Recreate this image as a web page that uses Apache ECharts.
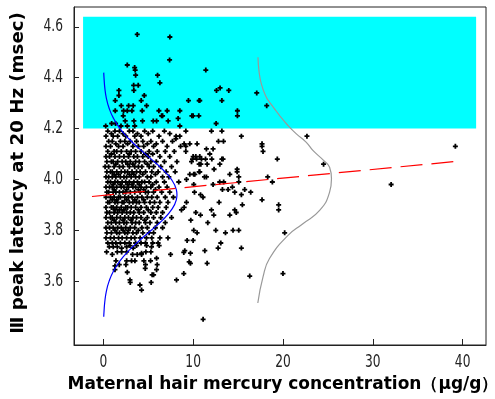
<!DOCTYPE html>
<html><head><meta charset="utf-8">
<script src="https://cdn.jsdelivr.net/npm/echarts@6/dist/echarts.min.js"></script>
<style>html,body{margin:0;padding:0;background:#fff}#c{width:495px;height:399px}</style>
</head><body><div id="c"></div>
<script>
// ---- data ----
const xTicks = [0, 10, 20, 30, 40];
const yTicks = [3.6, 3.8, 4.0, 4.2, 4.4, 4.6];
const bandX = [-2.25, 41.5];
const bandY = [4.2, 4.64];
const regressionLine = [[-1.26, 3.933], [39.3, 4.071]];
const blueCurve = [[0.05,4.42],[0.08,4.40],[0.17,4.36],[0.34,4.32],[0.65,4.28],[1.14,4.24],[1.86,4.20],[2.84,4.16],[4.03,4.12],[5.34,4.08],[6.59,4.04],[7.58,4.00],[8.13,3.96],[8.2,3.94],[8.13,3.92],[7.58,3.88],[6.59,3.84],[5.34,3.80],[4.03,3.76],[2.84,3.72],[1.86,3.68],[1.14,3.64],[0.65,3.60],[0.34,3.56],[0.17,3.52],[0.08,3.48],[0.05,3.46]];
const grayCurve = [[17.22,4.48],[17.33,4.427],[17.6,4.375],[18.15,4.323],[18.52,4.303],[19.63,4.251],[20.56,4.212],[21.49,4.179],[22.6,4.146],[23.33,4.114],[24.52,4.075],[25.19,4.048],[25.4,4.003],[25.19,3.95],[24.08,3.878],[22.22,3.826],[20.56,3.78],[18.5,3.689],[17.78,3.617],[17.2,3.514]];
const upperPoints = [[3.78,4.57],[7.41,4.56],[7.38,4.47],[2.67,4.45],[3.49,4.44],[3.55,4.43],[3.6,4.41],[6.04,4.41],[6.3,4.38],[3.38,4.37],[3.89,4.37],[3.4,4.35],[1.74,4.35],[1.74,4.33],[4.56,4.33],[4.22,4.31],[1.33,4.31],[2.0,4.29],[2.82,4.29],[3.33,4.29],[4.82,4.29],[1.33,4.27],[9.48,4.31],[10.67,4.31],[2.26,4.27],[2.67,4.27],[3.19,4.27],[4.33,4.27],[6.19,4.27],[7.11,4.27],[8.52,4.27],[6.6,4.25],[6.49,4.25],[9.86,4.25],[10.63,4.25],[10.0,4.25],[2.22,4.25],[2.44,4.23],[3.41,4.23],[4.37,4.23],[5.56,4.23],[5.93,4.23],[7.22,4.23],[8.33,4.24],[0.27,4.21],[0.93,4.22],[1.37,4.22],[1.97,4.21],[2.67,4.21],[3.5,4.21],[8.52,4.21],[11.41,4.43],[12.6,4.35],[13.0,4.36],[13.97,4.35],[17.08,4.34],[10.74,4.31],[13.2,4.31],[18.19,4.29],[14.93,4.27],[14.93,4.25],[12.56,4.22]];
const sparsePoints = [[22.67,4.17],[17.67,4.14],[17.78,4.11],[19.37,4.08],[24.52,4.06],[14.9,4.04],[14.9,4.03],[15.08,4.01],[15.08,3.99],[14.08,4.02],[18.3,4.01],[18.82,3.99],[14.37,3.97],[14.63,3.95],[15.37,3.94],[15.74,3.96],[16.41,3.95],[17.67,3.92],[19.52,3.90],[19.52,3.88],[15.48,3.90],[14.63,3.88],[14.8,3.87],[14.08,3.86],[14.44,3.80],[15.08,3.80],[20.19,3.79],[15.37,3.73],[16.3,3.62],[20.0,3.63],[32.04,3.98],[39.19,4.13],[11.11,3.45],[10.74,4.03],[11.48,4.01],[12.22,3.98],[12.96,3.99],[13.4,3.99],[13.26,3.96],[13.89,3.96],[12.89,3.91],[12.52,3.80],[13.6,3.79],[13.08,3.75],[12.78,3.73],[11.3,3.72],[11.56,3.67],[10.0,3.76],[9.33,3.76],[9.07,3.72],[9.7,3.71],[9.7,3.67],[8.96,3.63],[10.07,3.80],[10.44,3.79],[10.3,3.87],[9.74,3.84],[11.63,3.83],[12.3,3.86],[12.04,3.88],[10.82,3.86],[11.1,3.93],[10.82,3.94],[10.15,3.95],[9.26,3.91],[8.7,3.88],[9.0,3.89],[10.07,3.98],[9.26,4.0],[10.07,4.02],[12.04,4.19],[13.2,4.19],[15.37,4.17],[12.22,4.12],[13.2,4.08],[11.48,4.12],[11.85,4.10],[10.74,4.09],[10.93,4.08],[10.0,4.09],[10.3,4.09],[9.19,4.19],[8.52,4.17],[8.08,4.16],[9.0,4.14],[9.19,4.13],[9.19,4.11],[12.82,4.15],[13.38,4.15],[9.63,4.14],[10.44,4.14],[17.67,4.13],[9.93,4.08],[10.38,4.08],[11.38,4.08],[12.08,4.08],[13.33,4.08],[9.82,4.07],[10.67,4.06],[10.86,4.06],[11.56,4.06],[12.97,4.06],[12.33,4.04],[10.67,4.03],[9.63,4.02],[10.19,4.02],[11.26,4.01]];
const lowerPoints = [[0.67,3.735],[1.11,3.735],[1.56,3.735],[2.04,3.73],[2.6,3.735],[2.97,3.74],[3.33,3.73],[3.7,3.74],[4.26,3.71],[4.82,3.74],[5.37,3.735],[6.22,3.74],[0.37,3.715],[1.0,3.705],[1.56,3.715],[2.04,3.715],[2.6,3.715],[3.26,3.705],[3.78,3.705],[4.26,3.705],[4.74,3.715],[5.3,3.715],[5.93,3.69],[7.49,3.705],[8.96,3.713],[9.56,3.676],[1.41,3.68],[2.6,3.68],[3.15,3.68],[3.52,3.68],[4.52,3.68],[5.26,3.68],[1.3,3.66],[1.78,3.665],[2.52,3.665],[4.7,3.665],[6.0,3.665],[1.3,3.645],[2.67,3.635],[4.67,3.65],[5.93,3.645],[2.97,3.605],[3.0,3.595],[5.44,3.625],[5.6,3.625],[5.33,3.595],[4.08,3.585],[4.26,3.565],[8.15,3.605]];
// dense cluster: latency row value, then mercury values in that row
const clusterRows = [
 [4.19,[0.5,1.3,1.8,2.9,3.3,4.6,5.5,6.8]],
 [4.18,[0.9,2.2,3.8,5.0,7.4]],
 [4.17,[0.3,1.1,1.6,2.5,3.5,4.2,6.2,8.1]],
 [4.15,[0.6,1.0,1.9,2.4,3.0,3.7,4.4,5.3,6.6,7.7]],
 [4.14,[1.4,2.7,4.9,5.9]],
 [4.13,[0.3,0.8,1.7,2.2,3.3,3.9,4.5,5.6,7.1,8.6]],
 [4.11,[0.5,1.2,1.5,2.0,2.6,3.1,3.6,4.2,5.1,6.0,6.9,7.9]],
 [4.10,[0.9,2.9,4.7,5.5]],
 [4.09,[0.3,0.7,1.3,1.8,2.3,2.8,3.4,3.8,4.4,5.0,6.3,7.4]],
 [4.07,[0.4,0.9,1.1,1.6,2.1,2.5,3.0,3.6,4.0,4.6,5.3,5.9,6.8,8.2]],
 [4.06,[1.4,2.7,3.3,4.9]],
 [4.05,[0.2,0.6,1.2,1.8,2.2,2.9,3.5,3.9,4.3,5.1,5.6,6.4,7.6]],
 [4.03,[0.4,0.8,1.0,1.5,2.0,2.4,2.7,3.2,3.7,4.1,4.7,5.4,6.1,7.0,8.0]],
 [4.02,[1.2,1.7,2.9,3.4,4.4,5.8]],
 [4.01,[0.3,0.6,1.0,1.4,1.9,2.3,2.6,3.1,3.6,4.0,4.9,5.3,6.6,7.3]],
 [3.99,[0.5,0.8,1.3,1.6,2.1,2.5,2.9,3.4,3.8,4.3,4.6,5.1,5.9,6.8,8.4]],
 [3.98,[1.1,1.9,2.7,3.2,4.0,5.5]],
 [3.97,[0.3,0.7,1.0,1.5,2.0,2.3,2.8,3.3,3.6,4.2,4.8,5.3,6.2,7.1]],
 [3.96,[1.2,2.6,3.9,4.5,5.8]],
 [3.95,[0.4,0.6,1.1,1.4,1.8,2.2,2.5,3.0,3.5,4.1,4.7,5.0,5.6,6.5,7.4]],
 [3.93,[0.3,0.8,1.2,1.7,1.9,2.4,2.8,3.2,3.8,4.3,4.9,5.4,6.0,6.9,7.8]],
 [3.92,[1.0,1.5,2.6,3.5,4.5]],
 [3.91,[0.5,0.7,1.3,1.6,2.1,2.3,2.9,3.3,3.7,4.0,4.6,5.2,5.7,6.3,7.2]],
 [3.89,[0.3,0.9,1.1,1.5,2.0,2.5,2.7,3.1,3.6,4.2,4.8,5.5,6.1,7.0]],
 [3.88,[1.3,1.8,2.3,3.9,5.0]],
 [3.87,[0.4,0.7,1.2,1.6,2.1,2.6,3.0,3.4,4.0,4.5,5.3,5.9,6.6]],
 [3.85,[0.3,0.8,1.0,1.5,1.9,2.4,2.8,3.3,3.7,4.2,4.9,5.6,6.4,7.6]],
 [3.84,[1.2,2.2,3.1,4.6]],
 [3.83,[0.5,0.9,1.4,1.8,2.3,2.6,3.2,3.6,4.0,4.7,5.2,6.0,6.9]],
 [3.81,[0.3,0.7,1.1,1.6,2.0,2.5,3.0,3.5,4.3,4.9,5.8,6.6]],
 [3.80,[1.3,2.2,2.8,3.9]],
 [3.79,[0.4,0.9,1.5,1.8,2.4,2.7,3.3,3.7,4.4,5.1,5.6]],
 [3.77,[0.3,0.8,1.2,1.7,2.1,2.6,3.1,3.5,4.1,4.8,5.4,6.3,7.2]],
 [3.75,[0.5,1.0,1.4,1.9,2.4,2.9,3.6,4.2,4.7,5.5,6.1]]
];

// ---- chart ----
const clusterPoints = [];
clusterRows.forEach(r => r[1].forEach(x => clusterPoints.push([x, r[0]])));
const allPoints = clusterPoints.concat(upperPoints, sparsePoints, lowerPoints);

const chart = echarts.init(document.getElementById('c'), null, {renderer: 'canvas'});
const cross = 'path://M1.6,0H3.4V1.6H5V3.4H3.4V5H1.6V3.4H0V1.6H1.6Z';
const X0 = -3.26, X1 = 42.6, Y0 = 3.349, Y1 = 4.678;
chart.setOption({
  animation: false,
  backgroundColor: '#ffffff',
  grid: {left: 74, right: 9, top: 7, bottom: 54, show: true, borderColor: '#222', borderWidth: 1, backgroundColor: 'transparent'},
  xAxis: {
    type: 'value', min: X0, max: X1,
    axisLine: {show: true, onZero: false, lineStyle: {color: '#222', width: 1}},
    axisTick: {show: true, inside: true, length: 6, customValues: xTicks, lineStyle: {color: '#222'}},
    axisLabel: {show: false},
    splitLine: {show: false}
  },
  yAxis: {
    type: 'value', min: Y0, max: Y1,
    axisLine: {show: true, onZero: false, lineStyle: {color: '#222', width: 1}},
    axisTick: {show: true, inside: true, length: 5, customValues: yTicks, lineStyle: {color: '#222'}},
    axisLabel: {show: false},
    splitLine: {show: false}
  },
  series: [
    {type: 'line', data: [], z: 1, silent: true,
     markArea: {silent: true, itemStyle: {color: '#00ffff', opacity: 1},
       data: [[{coord: [bandX[0], bandY[1]]}, {coord: [bandX[1], bandY[0]]}]]}},
    {type: 'scatter', data: allPoints, z: 2, symbol: cross, symbolSize: 5, itemStyle: {color: '#000', opacity: 1}, silent: true},
    {type: 'line', data: blueCurve, z: 3, smooth: true, showSymbol: false, lineStyle: {color: '#0000ff', width: 1.2}, silent: true},
    {type: 'line', data: grayCurve, z: 3, smooth: true, showSymbol: false, lineStyle: {color: '#999999', width: 1.2}, silent: true},
    {type: 'line', data: regressionLine, z: 4, showSymbol: false, lineStyle: {color: '#ff0000', width: 1.2, type: [22, 9]}, silent: true}
  ]
});

// tick labels in a narrow face, placed through the axis scales
const tickFont = "17px 'DejaVu Sans'";
const gfx = [];
xTicks.forEach(v => {
  const p = chart.convertToPixel({gridIndex: 0}, [v, Y0]);
  gfx.push({type: 'text', x: p[0], y: p[1] + 9, scaleX: 0.72, silent: true,
    style: {text: String(v), font: tickFont, fill: '#222', align: 'center', verticalAlign: 'top'}});
});
yTicks.forEach(v => {
  const p = chart.convertToPixel({gridIndex: 0}, [X0, v]);
  gfx.push({type: 'text', x: p[0] - 11, y: p[1], scaleX: 0.72, silent: true,
    style: {text: v.toFixed(1), font: tickFont, fill: '#222', align: 'right', verticalAlign: 'middle'}});
});
gfx.push({type: 'text', x: 283, y: 385, silent: true,
  style: {text: 'Maternal hair mercury concentration（μg/g）', font: "bold 17px 'DejaVu Sans'", fill: '#000', align: 'center', verticalAlign: 'middle'}});
gfx.push({type: 'text', x: 19, y: 173, rotation: Math.PI / 2, scaleX: 1.07, silent: true,
  style: {text: 'Ⅲ peak latency at 20 Hz (msec)', font: "bold 17px 'DejaVu Sans'", fill: '#000', align: 'center', verticalAlign: 'middle'}});
chart.setOption({graphic: gfx});
</script></body></html>
